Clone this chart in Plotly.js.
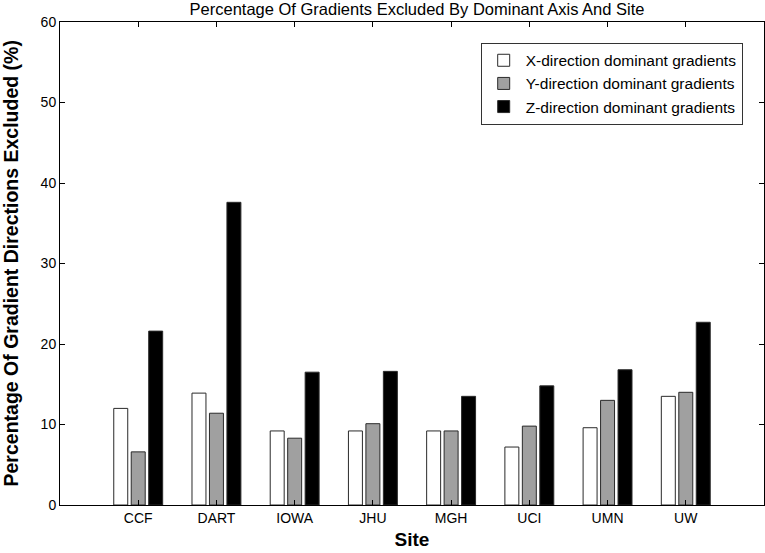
<!DOCTYPE html>
<html>
<head>
<meta charset="utf-8">
<script src="https://cdn.plot.ly/plotly-3.0.1.min.js"></script>
<style>html,body{margin:0;padding:0;background:#fff;}#chart{width:765px;height:553px;}</style>
</head>
<body>
<div id="chart"></div>
<script>
const sites = ["CCF", "DART", "IOWA", "JHU", "MGH", "UCI", "UMN", "UW"];
const seriesNames = ["X-direction dominant gradients", "Y-direction dominant gradients", "Z-direction dominant gradients"];
const xValues = [12.0, 13.9, 9.2, 9.2, 9.2, 7.2, 9.6, 13.5];
const yValues = [6.6, 11.4, 8.3, 10.1, 9.2, 9.8, 13.0, 14.0];
const zValues = [21.6, 37.6, 16.5, 16.6, 13.5, 14.8, 16.8, 22.7];
const yTicks = [0, 10, 20, 30, 40, 50, 60];
const chartTitle = "Percentage Of Gradients Excluded By Dominant Axis And Site";
const xTitle = "Site";
const yTitle = "Percentage Of Gradient Directions Excluded (%)";

const fills = ["#ffffff", "#a0a0a0", "#000000"];
const allValues = [xValues, yValues, zValues];
const font = "Liberation Sans, Arial, Helvetica, sans-serif";

const traces = allValues.map((vals, i) => ({
  type: "bar",
  name: seriesNames[i],
  x: sites,
  y: vals,
  marker: {color: fills[i], line: {color: "#2a2a2a", width: 1}},
  hoverinfo: "x+y+name"
}));

const layout = {
  width: 765, height: 553,
  margin: {l: 60, r: 1, t: 22, b: 48, pad: 0, autoexpand: false},
  paper_bgcolor: "#fff", plot_bgcolor: "#fff",
  barmode: "group", bargap: 0.33, bargroupgap: 0.2,
  font: {family: font, color: "#000", size: 14},
  title: {text: chartTitle,
          font: {family: font, size: 16.5, color: "#000"},
          xref: "container", x: 417 / 765, xanchor: "center",
          yref: "container", y: 1 - 9 / 553, yanchor: "middle"},
  xaxis: {
    type: "category", range: [-1, 8],
    showline: true, linecolor: "#000", linewidth: 1, mirror: "ticks",
    ticks: "inside", ticklen: 5, tickcolor: "#000",
    tickfont: {family: font, size: 14},
    showgrid: false, zeroline: false,
    title: {text: "<b>" + xTitle + "</b>", font: {family: font, size: 19}, standoff: 7}
  },
  yaxis: {
    range: [0, 60], tickvals: yTicks, ticktext: yTicks.map(String),
    showline: true, linecolor: "#000", linewidth: 1, mirror: "ticks",
    ticks: "inside", ticklen: 5, tickcolor: "#000",
    tickfont: {family: font, size: 14},
    showgrid: false, zeroline: false
  },
  annotations: [{
    text: "<b>" + yTitle + "</b>", textangle: -90,
    xref: "paper", yref: "paper", x: (10 - 60) / 704, y: 0.5,
    xanchor: "center", yanchor: "middle", showarrow: false,
    font: {family: font, size: 19.5, color: "#000"}
  }],
  showlegend: true,
  legend: {
    x: (742.7 - 60) / 704, xanchor: "right", y: (505 - 42.7) / 483, yanchor: "top",
    bgcolor: "#fff", bordercolor: "#333", borderwidth: 1,
    font: {family: font, size: 15.5, color: "#000"},
    tracegroupgap: 0, traceorder: "normal", itemwidth: 34
  }
};

Plotly.newPlot("chart", traces, layout, {displayModeBar: false, staticPlot: true});
</script>
</body>
</html>
